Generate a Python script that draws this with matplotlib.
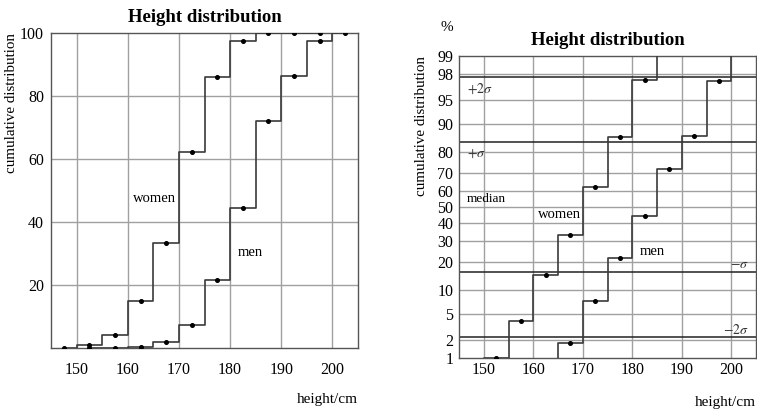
import numpy as np
import matplotlib
matplotlib.use("Agg")
import matplotlib.pyplot as plt
from statistics import NormalDist

plt.rcParams['font.family'] = ['Liberation Serif', 'DejaVu Serif']
plt.rcParams['mathtext.fontset'] = 'stix'

# bin midpoints (5 cm bins) and cumulative percentages
women_x = [147.5, 152.5, 157.5, 162.5, 167.5, 172.5, 177.5, 182.5, 187.5, 192.5, 197.5]
women_cum = [0, 1.0, 4.0, 14.8, 33.2, 62.2, 86.0, 97.5, 100, 100, 100]
men_x = [152.5, 157.5, 162.5, 167.5, 172.5, 177.5, 182.5, 187.5, 192.5, 197.5, 202.5]
men_cum = [0, 0, 0.3, 1.8, 7.3, 21.6, 44.4, 72.0, 86.4, 97.4, 100]

x_ticks = [150, 160, 170, 180, 190, 200]
lin_ticks = [20, 40, 60, 80, 100]
prob_ticks = [1, 2, 5, 10, 20, 30, 40, 50, 60, 70, 80, 90, 95, 98, 99]
sigma_levels = [2.275, 15.866, 84.134, 97.725]

GRID = '#a0a0a0'
LINE = '#3a3a3a'

_nd = NormalDist()


def probit(p):
    p = np.clip(np.asarray(p, dtype=float) / 100.0, 1e-6, 1 - 1e-6)
    return np.vectorize(_nd.inv_cdf, otypes=[float])(p)


def inv_probit(z):
    z = np.asarray(z, dtype=float)
    return 100.0 * np.vectorize(_nd.cdf, otypes=[float])(z)


def draw_steps(ax):
    ax.step(women_x, women_cum, where='mid', color=LINE, lw=1.2, zorder=3)
    ax.step(men_x, men_cum, where='mid', color=LINE, lw=1.2, zorder=3)
    ax.plot(women_x, women_cum, 'o', color='black', ms=2.6, zorder=4)
    ax.plot(men_x, men_cum, 'o', color='black', ms=2.6, zorder=4)


def style(ax):
    ax.set_xlim(145, 205)
    ax.set_xticks(x_ticks)
    for s in ax.spines.values():
        s.set_color('#555555')
        s.set_linewidth(1.0)
    ax.tick_params(length=0, labelsize=11.5)
    for v in x_ticks:
        ax.axvline(v, color=GRID, lw=1.0, zorder=1)


fig = plt.figure(figsize=(7.57, 4.11), dpi=100)

# left: linear cumulative distribution
axL = fig.add_axes([51 / 757, 1 - 348 / 411, 307 / 757, 315 / 411])
style(axL)
axL.set_ylim(0, 100)
axL.set_yticks(lin_ticks)
axL.tick_params(axis='x', pad=10)
axL.tick_params(axis='y', pad=5)
for v in lin_ticks[:-1]:
    axL.axhline(v, color=GRID, lw=1.0, zorder=1)
draw_steps(axL)
axL.text(165.3, 47.6, 'women', ha='center', va='center', fontsize=10.5)
axL.text(183.9, 30.2, 'men', ha='center', va='center', fontsize=10.5)
axL.set_title('Height distribution', fontsize=13.5, fontweight='bold', pad=8)
axL.text(-0.13, 1.0, 'cumulative distribution', transform=axL.transAxes,
         rotation=90, ha='center', va='top', fontsize=10.8)
axL.text(1.0, -0.165, 'height/cm', transform=axL.transAxes,
         ha='right', va='center', fontsize=11)

# right: probability (probit) scale
axR = fig.add_axes([459 / 757, 1 - 358 / 411, 297 / 757, 302 / 411])
axR.set_yscale('function', functions=(probit, inv_probit))
style(axR)
axR.set_ylim(1, 99)
axR.set_yticks(prob_ticks)
axR.set_yticklabels([str(t) for t in prob_ticks])
axR.minorticks_off()
axR.tick_params(axis='x', pad=3)
axR.tick_params(axis='y', pad=4)
for v in prob_ticks[1:-1]:
    axR.axhline(v, color=GRID, lw=1.0, zorder=1)
for v in sigma_levels:
    axR.axhline(v, color='#222222', lw=1.1, zorder=2)
draw_steps(axR)
axR.text(165.4, 45.7, 'women', ha='center', va='center', fontsize=10.5)
axR.text(184.1, 24.8, 'men', ha='center', va='center', fontsize=10.5)
axR.text(146.6, 96.6, r'$+2\sigma$', ha='left', va='center', fontsize=10, color='#333333')
axR.text(146.6, 79.4, r'$+\sigma$', ha='left', va='center', fontsize=10, color='#333333')
axR.text(146.6, 55.0, 'median', ha='left', va='center', fontsize=9.5)
axR.text(203.6, 18.8, r'$-\sigma$', ha='right', va='center', fontsize=10, color='#333333')
axR.text(203.6, 2.9, r'$-2\sigma$', ha='right', va='center', fontsize=10, color='#333333')
axR.set_title('Height distribution', fontsize=13.5, fontweight='bold', pad=8)
axR.text(-0.04, 1.093, '%', transform=axR.transAxes, ha='center', va='center', fontsize=11)
axR.text(-0.125, 1.0, 'cumulative distribution', transform=axR.transAxes,
         rotation=90, ha='center', va='top', fontsize=10.8)
axR.text(1.0, -0.146, 'height/cm', transform=axR.transAxes,
         ha='right', va='center', fontsize=11)

fig.savefig('out.png', dpi=100)
